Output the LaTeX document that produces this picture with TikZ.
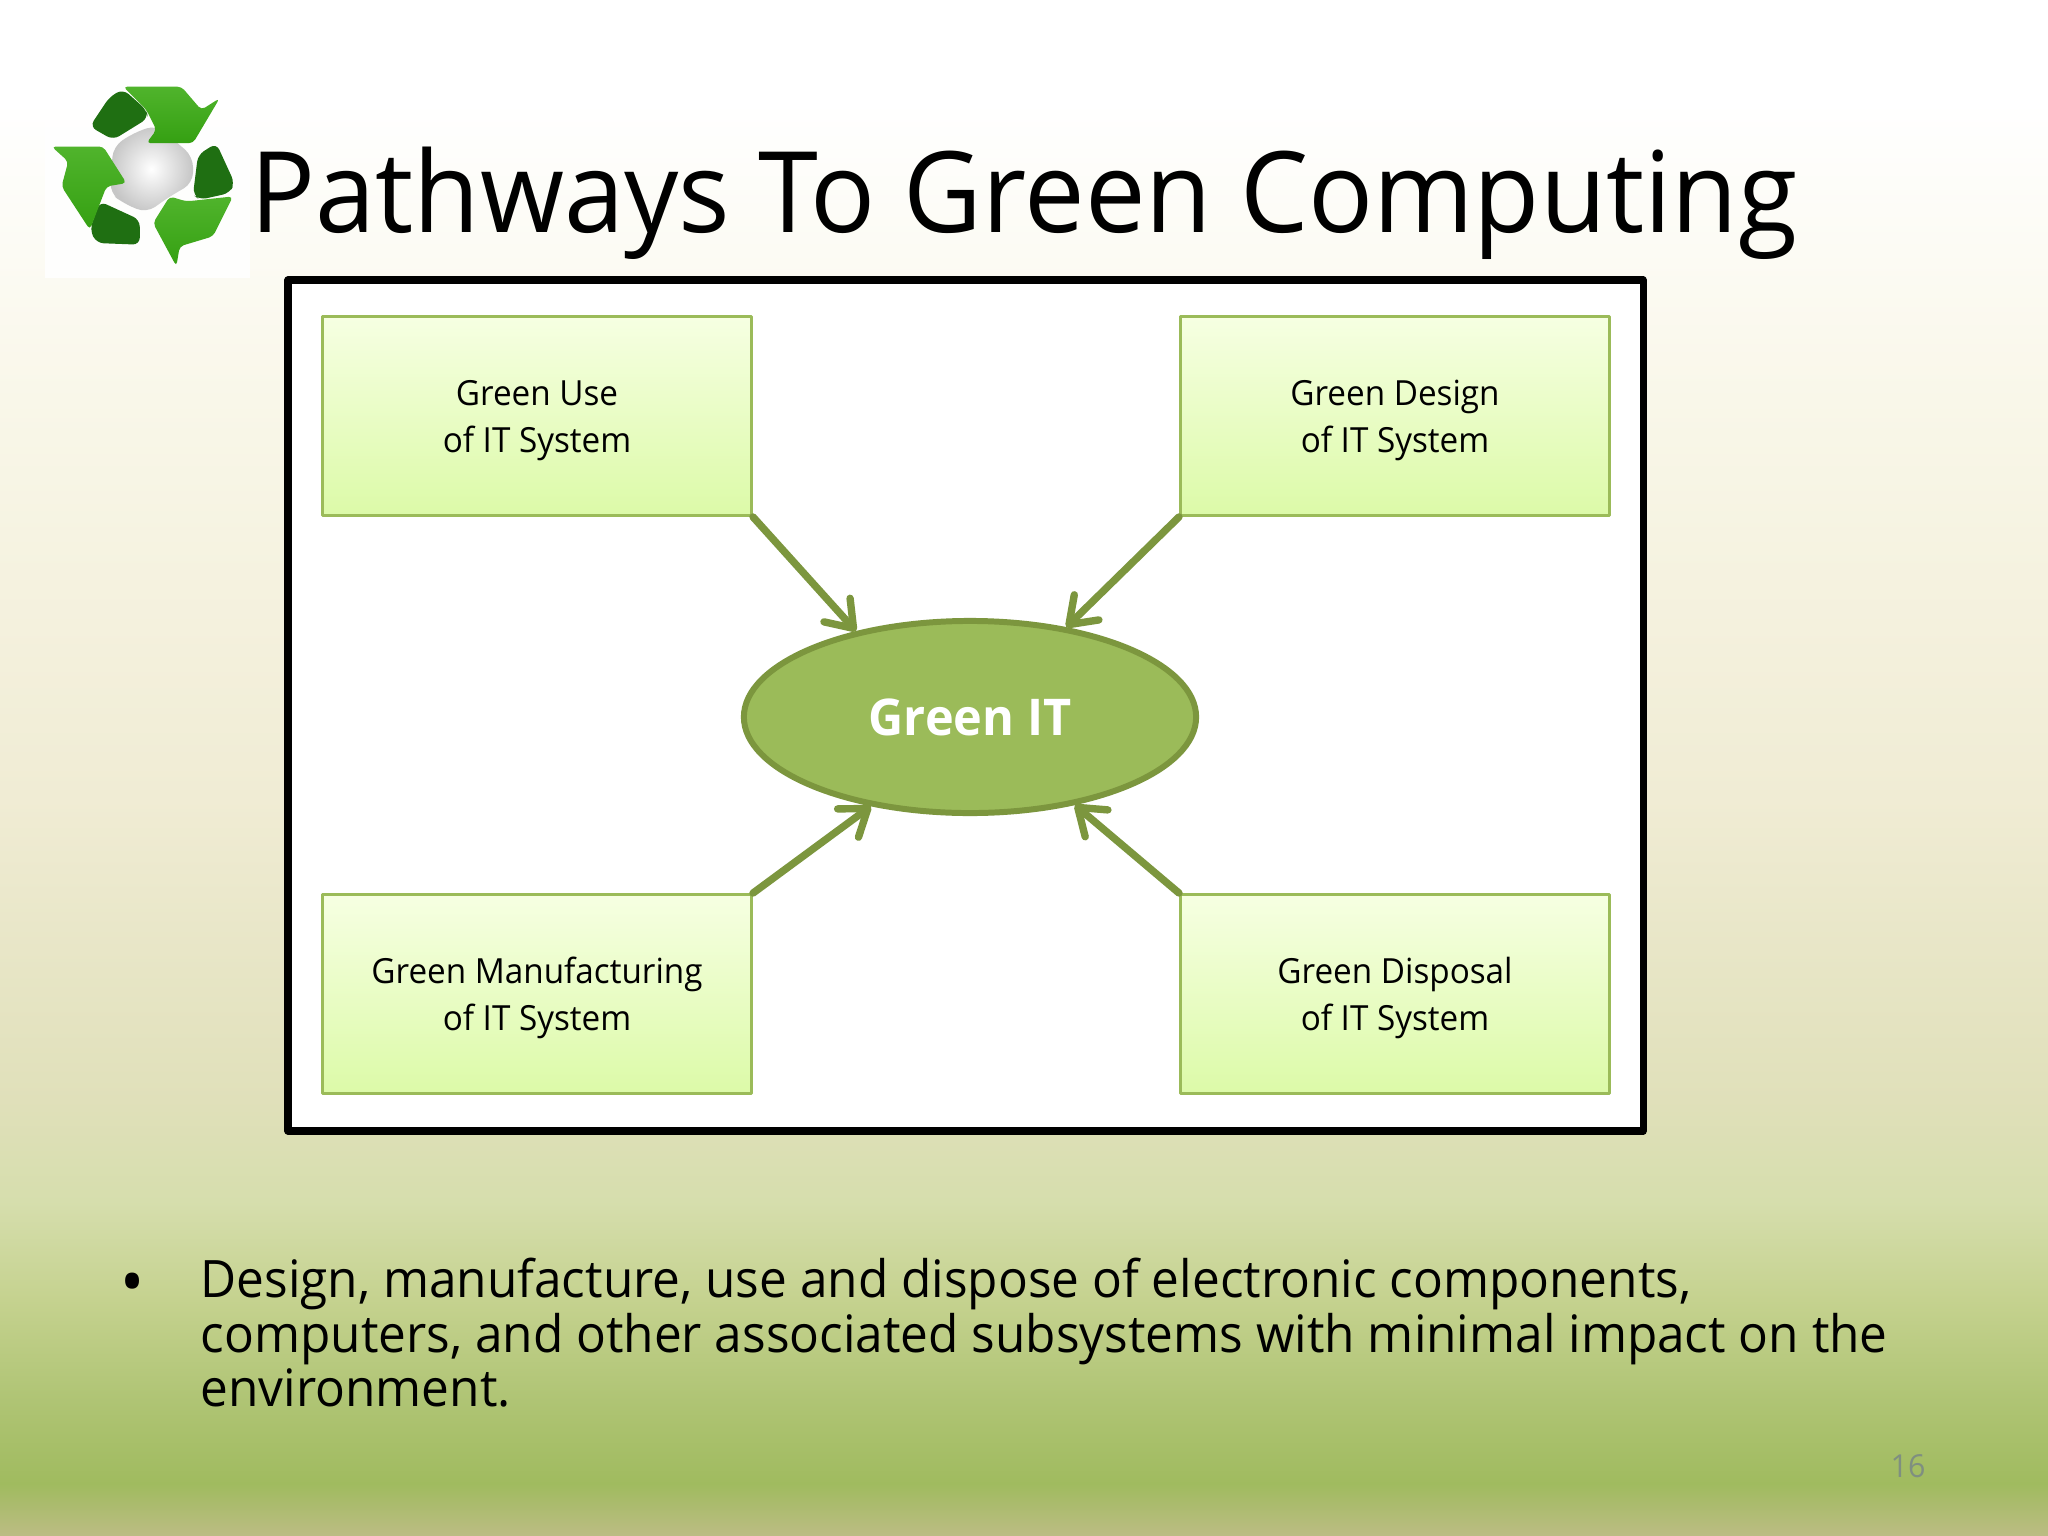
\documentclass[tikz,border=0pt]{standalone}
\usepackage{fontspec}
\setmainfont[FakeStretch=0.96]{Open Sans}
\usetikzlibrary{arrows.meta}
\usetikzlibrary{shapes.geometric}
\definecolor{arrowgreen}{HTML}{7C963E}
\definecolor{ovalgreen}{HTML}{9BBB59}
\definecolor{leafgreen}{HTML}{35A012}
\definecolor{leaflight}{HTML}{50B42C}
\definecolor{leafdark}{HTML}{1F6F12}
\definecolor{boxtop}{HTML}{F6FFE2}
\definecolor{boxbottom}{HTML}{DCFAA8}
\definecolor{pagegray}{HTML}{7F8F80}
\definecolor{bga}{HTML}{BCBC84}
\definecolor{bgb}{HTML}{A0BB5F}
\definecolor{bgc}{HTML}{AFC474}
\definecolor{bgd}{HTML}{C5D28F}
\definecolor{bge}{HTML}{D6DEAD}
\definecolor{bgf}{HTML}{E0E0BA}
\definecolor{bgg}{HTML}{F0ECD4}
\definecolor{bgh}{HTML}{F9F7E9}
\pgfdeclareverticalshading{slidebg}{100bp}{color(0bp)=(bga);
  color(25bp)=(bga); color(26.7bp)=(bgb); color(29.4bp)=(bgc);
  color(32.7bp)=(bgd); color(35.9bp)=(bge); color(39.2bp)=(bgf);
  color(49bp)=(bgg); color(62bp)=(bgh); color(71.7bp)=(white); color(100bp)=(white)}
\tikzset{
  greenbox/.style={draw=ovalgreen,line width=0.8pt,top color=boxtop,bottom color=boxbottom,
    minimum width=4.29cm,minimum height=1.99cm,inner sep=0pt,align=center,font=\fontsize{9.85}{13.3}\selectfont,
    execute at begin node=\rule{0pt}{23pt}},
  pathway/.style={arrowgreen,line width=2.1pt,-{Straight Barb[length=7pt,width=10pt,round]}},
  leaf/.style={top color=leaflight,bottom color=leafgreen,rounded corners=1.2pt},
  leafback/.style={fill=leafdark,rounded corners=2pt}
}
\begin{document}
\begin{tikzpicture}[line cap=round,line join=round,x=0.01cm,y=-0.01cm]
\useasboundingbox (0,0) rectangle (2048,1536);
\shade [shading=slidebg] (0,0) rectangle (2048,1536);
% logo
\fill [white,opacity=0.85] (45,78) rectangle (250,278);
\begin{scope}[shift={(0,50)},x=0.00333cm,y=-0.00333cm]
\shade [inner color=white,outer color=gray!45,rounded corners=3pt] (340,290)--(400,250)--(470,225)--(580,320)--(580,400)--(510,440)--(440,490)--(370,460)--(330,430)--cycle;
\fill [leafback] (370,118)--(440,180)--(445,205)--(340,270)--(270,230)--(330,140)--cycle;
\shade [leaf] (370,110)--(545,110)--(605,180)--(660,145)--(580,280)--(440,280)--(470,240)--(440,180)--cycle;
\fill [leafback] (650,280)--(705,400)--(690,430)--(600,450)--(580,435)--(595,315)--cycle;
\shade [leaf] (700,440)--(640,560)--(540,590)--(530,650)--(460,520)--(510,440)--(560,455)--cycle;
\fill [leafback] (300,455)--(420,510)--(420,585)--(290,580)--(270,540)--cycle;
\shade [leaf] (155,290)--(310,290)--(380,400)--(320,410)--(270,540)--(185,410)--(205,335)--cycle;
\end{scope}
\node [anchor=base west,inner sep=0pt,font=\fontsize{32}{32}\selectfont] (title) at (250,232) {Pathways To Green Computing};
\draw [fill=white,line width=2pt] (288,280) rectangle (1643,1131);
\node [greenbox] (use) at (537,416) {Green Use\\of IT System};
\node [greenbox] (design) at (1395,416) {Green Design\\of IT System};
\node [greenbox] (manufacturing) at (537,994) {Green Manufacturing\\of IT System};
\node [greenbox] (disposal) at (1395,994) {Green Disposal\\of IT System};
\node [ellipse,draw=arrowgreen,fill=ovalgreen,line width=1.7pt,minimum width=4.52cm,minimum height=1.92cm,inner sep=0pt,
  text=white,font=\bfseries\fontsize{14.4}{14.4}\selectfont] (greenit) at (970,717) {Green IT};
\draw [pathway] (use.south east)--(greenit.143);
\draw [pathway] (design.south west)--(greenit.43);
\draw [pathway] (manufacturing.north east)--(greenit.222);
\draw [pathway] (disposal.north west)--(greenit.320);
\node [anchor=base,inner sep=0pt,font=\fontsize{19}{19}\selectfont] (bullet) at (133,1305) {•};
\node [anchor=north west,inner sep=0pt,align=left,font=\fontsize{14.67}{15.6}\selectfont] (body) at (200,1257)
  {Design, manufacture, use and dispose of electronic components,\\computers, and other associated subsystems with minimal impact on the\\environment.};
\node [inner sep=0pt,text=pagegray,font=\fontsize{9}{9}\selectfont] (page) at (1908,1466) {16};
\end{tikzpicture}
\end{document}
